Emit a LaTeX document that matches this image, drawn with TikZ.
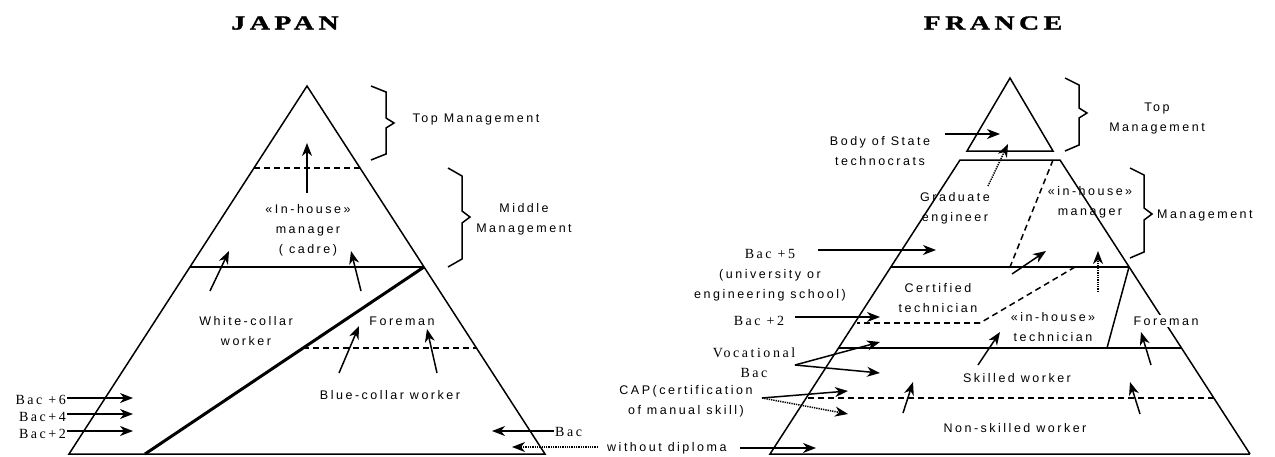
\documentclass[tikz,border=0pt]{standalone}
\usepackage{fontspec}
\setmainfont{Liberation Serif}
\newfontfamily\labfont[LetterSpace=20]{Liberation Sans}
\newfontfamily\serfont[LetterSpace=18]{Liberation Serif}
\newfontfamily\ttlfont[LetterSpace=22,FakeStretch=1.4,FakeBold=1.5]{Liberation Serif Bold}
\usetikzlibrary{arrows.meta}
\begin{document}
\begin{tikzpicture}[x=1pt,y=-1pt,
  lab/.style={font=\labfont\fontsize{12.5}{20}\selectfont, align=center, inner sep=1pt},
  ser/.style={font=\serfont\fontsize{14}{20}\selectfont, align=center, inner sep=1pt},
  ttl/.style={font=\ttlfont\fontsize{20}{22}\selectfont, inner sep=0pt},
  edge/.style={line width=1.5pt, line join=miter},
  heavy/.style={line width=3pt},
  arr/.style={-{Stealth[length=13pt,width=10pt,inset=4pt]}, line width=1.5pt},
  darr/.style={arr, dash pattern=on 1.3pt off 1pt},
  dsh/.style={line width=1.9pt, dash pattern=on 6pt off 4pt},
  tdsh/.style={line width=1.5pt, dash pattern=on 6pt off 4pt},
  bracket/.style={line width=1.5pt, line join=miter}
]
\useasboundingbox (0,0) rectangle (1275,456);

% ================= JAPAN =================
\node[ttl] (jtitle) at (285,23) {JAPAN};
\coordinate (jA) at (307,86);
\coordinate (jL) at (69,454);
\coordinate (jR) at (545,454);
\draw[edge] (jL) -- (jA) -- (jR) -- cycle;
\coordinate (jd1) at (254,168); \coordinate (jd2) at (360,168);
\draw[dsh] (jd1) -- (jd2);
\coordinate (js1) at (190,267); \coordinate (js2) at (424,267);
\draw[line width=1.8pt] (js1) -- (js2);
\coordinate (jt1) at (145,454);
\draw[heavy] (js2) -- (jt1);
\coordinate (jd3) at (303,348); \coordinate (jd4) at (476,348);
\draw[dsh] (jd3) -- (jd4);

% braces
\draw[bracket] (371,86) -- (386,92) -- (386,118) -- (394,123) -- (386,128) -- (386,154) -- (371,160);
\draw[bracket] (448,168) -- (462,176) -- (462,211) -- (470,217) -- (462,223) -- (462,259) -- (448,267);

% labels
\node[lab] (jtop) at (476,119) {Top Management};
\node[lab] (jmid) at (524,219) {Middle\\Management};
\node[lab] (jmgr) at (308,230) {«In-house»\\manager\\( cadre)};
\node[lab] (jwc) at (246,331) {White-collar\\worker};
\node[lab] (jfm) at (402,321) {Foreman};
\node[lab] (jbc) at (390,395) {Blue-collar worker};
\node[ser, anchor=east] (jb6) at (67,400) {Bac +6};
\node[ser, anchor=east] (jb4) at (67,417) {Bac+4};
\node[ser, anchor=east] (jb2) at (67,434) {Bac+2};
\node[ser, anchor=west] (jbac) at (554,432) {Bac};
\node[lab, anchor=west] (wd) at (606,448) {without diploma};

% arrows
\coordinate (ja1s) at (307,193); \coordinate (ja1e) at (307,143);
\draw[arr] (ja1s) -- (ja1e);
\coordinate (ja2s) at (210,291); \coordinate (ja2e) at (229,251);
\draw[arr] (ja2s) -- (ja2e);
\coordinate (ja3s) at (361,291); \coordinate (ja3e) at (351,251);
\draw[arr] (ja3s) -- (ja3e);
\coordinate (ja4s) at (339,373); \coordinate (ja4e) at (359,326);
\draw[arr] (ja4s) -- (ja4e);
\coordinate (ja5s) at (437,373); \coordinate (ja5e) at (427,329);
\draw[arr] (ja5s) -- (ja5e);
\coordinate (jb6s) at (67,398); \coordinate (jb6e) at (133,398);
\draw[arr] (jb6s) -- (jb6e);
\coordinate (jb4s) at (67,414); \coordinate (jb4e) at (133,414);
\draw[arr] (jb4s) -- (jb4e);
\coordinate (jb2s) at (67,431); \coordinate (jb2e) at (133,431);
\draw[arr] (jb2s) -- (jb2e);
\coordinate (jbacs) at (554,431); \coordinate (jbace) at (492,431);
\draw[arr] (jbacs) -- (jbace);
\coordinate (wdl) at (598,447); \coordinate (wdle) at (512,447);
\draw[darr] (wdl) -- (wdle);
\coordinate (wdr) at (740,448); \coordinate (wdre) at (816,448);
\draw[arr] (wdr) -- (wdre);

% ================= FRANCE =================
\node[ttl] (ftitle) at (993,23) {FRANCE};
\coordinate (fA) at (1010,78);
\coordinate (fAL) at (967,151);
\coordinate (fAR) at (1053,151);
\draw[edge] (fAL) -- (fA) -- (fAR) -- cycle;
\coordinate (fTL) at (960,160); \coordinate (fTR) at (1060,160);
\coordinate (fBL) at (770,454); \coordinate (fBR) at (1250,454);
\draw[edge] (fBR) -- (fBL) -- (fTL) -- (fTR) -- (fBR);

\coordinate (fs1) at (891,267); \coordinate (fs2) at (1129,267);
\draw[edge] (fs1) -- (fs2);
\coordinate (fs3) at (839,348); \coordinate (fs4) at (1181,348);
\draw[edge] (fs3) -- (fs4);
\coordinate (fs5) at (1107,348);
\draw[edge] (fs2) -- (fs5);
\coordinate (fdd1) at (1053,160); \coordinate (fdd2) at (1010,267);
\draw[tdsh] (fdd1) -- (fdd2);
\coordinate (fdd3) at (1075,267); \coordinate (fdd4) at (980,323); \coordinate (fdd5) at (857,323);
\draw[tdsh] (fdd3) -- (fdd4);
\draw[dsh] (fdd4) -- (fdd5);
\coordinate (fdd6) at (808,398); \coordinate (fdd7) at (1215,398);
\draw[dsh] (fdd6) -- (fdd7);

% braces
\draw[bracket] (1065,78) -- (1079,85) -- (1079,108) -- (1087,113) -- (1079,118) -- (1079,145) -- (1065,151);
\draw[bracket] (1130,168) -- (1144,175) -- (1144,208) -- (1152,214) -- (1144,220) -- (1144,252) -- (1130,258);

% labels
\node[lab] (ftop) at (1157,118) {Top\\Management};
\node[lab, anchor=west] (fmg) at (1156,215) {Management};
\node[lab] (fbody) at (880,151) {Body of State\\technocrats};
\node[lab] (fgrad) at (955,208) {Graduate\\engineer};
\node[lab] (fihm) at (1090,202) {«in-house»\\manager};
\node[ser] (fb5) at (770,254) {Bac +5};
\node[lab] (funiv) at (770,285) {(university or\\engineering school)};
\node[ser] (fb2) at (759,321) {Bac +2};
\node[ser] (fvoc) at (754,363) {Vocational\\Bac};
\node[lab] (fcap) at (686,401) {CAP(certification\\of manual skill)};
\node[lab] (fcert) at (938,298) {Certified\\technician};
\node[lab] (fiht) at (1053,327) {«in-house»\\technician};
\node[lab, fill=white, inner sep=2pt] (ffm) at (1166,321) {Foreman};
\node[lab] (fsk) at (1017,378) {Skilled worker};
\node[lab] (fns) at (1015,428) {Non-skilled worker};

% arrows
\coordinate (fbs) at (945,134); \coordinate (fbe) at (1000,134);
\draw[arr] (fbs) -- (fbe);
\coordinate (fgs) at (988,186); \coordinate (fge) at (1008,144);
\draw[darr] (fgs) -- (fge);
\coordinate (f5s) at (818,250); \coordinate (f5e) at (936,250);
\draw[arr] (f5s) -- (f5e);
\coordinate (f2s) at (795,317); \coordinate (f2e) at (880,317);
\draw[arr] (f2s) -- (f2e);
\coordinate (fvs) at (795,365); \coordinate (fve1) at (880,342); \coordinate (fve2) at (880,373);
\draw[arr] (fvs) -- (fve1);
\draw[arr] (fvs) -- (fve2);
\coordinate (fcs) at (762,398); \coordinate (fce1) at (848,391); \coordinate (fce2) at (848,414);
\draw[arr] (fcs) -- (fce1);
\draw[darr] (fcs) -- (fce2);
\coordinate (fi1s) at (1012,274); \coordinate (fi1e) at (1046,251);
\draw[arr] (fi1s) -- (fi1e);
\coordinate (fi2s) at (1098,292); \coordinate (fi2e) at (1098,251);
\draw[darr] (fi2s) -- (fi2e);
\coordinate (fi3s) at (978,365); \coordinate (fi3e) at (1000,332);
\draw[arr] (fi3s) -- (fi3e);
\coordinate (fi4s) at (1151,365); \coordinate (fi4e) at (1141,332);
\draw[arr] (fi4s) -- (fi4e);
\coordinate (fi5s) at (903,413); \coordinate (fi5e) at (913,382);
\draw[arr] (fi5s) -- (fi5e);
\coordinate (fi6s) at (1140,414); \coordinate (fi6e) at (1130,382);
\draw[arr] (fi6s) -- (fi6e);
\end{tikzpicture}
\end{document}
